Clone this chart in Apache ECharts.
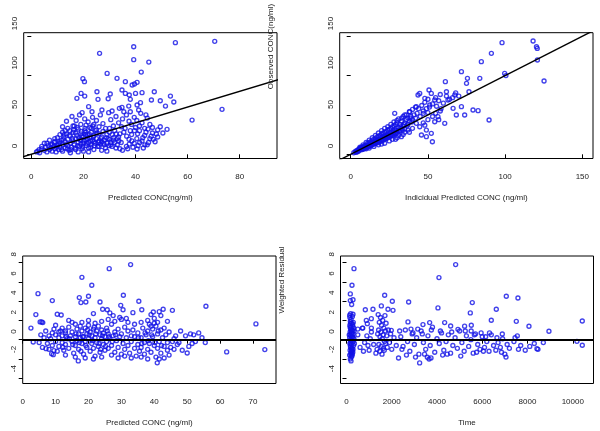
<!DOCTYPE html>
<html>
<head>
<meta charset="utf-8">
<script src="https://cdn.jsdelivr.net/npm/echarts@6/dist/echarts.min.js"></script>
<style>html,body{margin:0;padding:0;background:#fff}#chart{width:600px;height:431px}</style>
</head>
<body>
<div id="chart"></div>
<script>
// Panel 1: Observed vs Predicted CONC
const obsVsPred = [
[55.3,141.8],[70.4,143.5],[39.3,136.7],[26.2,128.3],[39.3,120.2],[45.1,117.2],[42.2,104.5],[29.1,102.8],[19.8,96.1],[20.4,92.3],
[32.9,96.5],[36.1,92.3],[40.6,91.4],[38.7,88],[39.6,89.3],[34.8,81.7],[25.2,79.5],[30.3,76.6],[19.1,77.4],[47.2,79.5],
[53.4,74],[20.5,74],[17.5,71.1],[25.6,69.8],[29.5,70.6],[36.1,77.4],[37.6,75.3],[40.0,77.4],[42.5,78.3],[38,69.8],
[41.9,65.6],[46.1,69],[49.5,68.1],[54.7,66.4],[51.5,61.3],[33.8,58.4],[34.8,59.6],[37.4,61.3],[40.6,62.6],[41.2,56.3],
[22.0,60.5],[23.3,54.1],[27.1,56.3],[29.7,52.9],[19.5,52.9],[73.2,57.1],[61.7,43.5],[52.1,31.7],[48,25.8],[40.6,6.7],
[15.6,48],[17.2,43],[18.5,50],[20.5,45],[21.8,41],[23.5,47],[25.0,43],[26.5,50],[24.0,38],[19.0,38],
[16.5,36],[13.5,42],[12.0,35],[14.8,30],[22.5,34],[27.5,39],[28.5,33],[30.5,44],[31.5,36],[32.5,48],
[33.5,40],[35.0,45],[36.5,50],[37.5,42],[38.5,38],[39.5,47],[40.5,43],[41.5,36],[42.5,40],[43.5,33],
[44.5,46],[45.5,38],[46.5,34],[44.0,50],[42.0,52],[38.0,54],[35.5,54],[31.0,55],
[30.5,12],[31.5,18],[32.5,8],[33.5,22],[34.5,15],[35.5,28],[36.5,10],[37.5,19],[38.5,25],[39.5,14],
[40.5,20],[41.5,30],[42.5,17],[43.5,24],[44.5,12],[45.5,20],[46.5,27],[47.5,16],[48.5,22],[35,5],
[37,7],[39,9],[41,11],[43,8],[45,15],[33,12],[31,25],[29.5,20],[28.5,8],[36,33],
[40,34],[44,28],[46,23],[48.5,31],[49.5,35],[50.5,27],[38,30],[34,26],[32,30],[30,28],
[27,16],[26,10],[27,5],[29,4],
[2.5,4],[3.2,2],[4,7],[5,5],[5.5,9],[6,3],[6.5,11],[7,6],[7.5,8],[8,4],
[8,13],[8.5,10],[9,7],[9,16],[9.5,3],[10,11],[10,21],[10.5,6],[11,14],[11,9],
[11.5,18],[12,4],[12,12],[12.5,22],[13,8],[13,16],[13.5,26],[14,11],[14,19],[14.5,5],
[15,14],[15,23],[15.5,9],[16,17],[16,28],[16.5,12],[17,20],[17,6],[17.5,24],[18,15],
[18,32],[18.5,10],[19,19],[19,26],[19.5,7],[20,14],[20,22],[20.5,30],[21,11],[21,18],
[21.5,25],[22,8],[22,15],[22.5,21],[23,12],[23,28],[23.5,18],[24,6],[24,24],[24.5,14],
[25,20],[25,31],[25.5,10],[26,17],[26,26],[26.5,13],[27,22],[27.5,29],[28,12],[28,18],
[29,25],[29,14],[30,19],[30,33],[31,10],[32,15],[33,20],[34,7],[6,14],[4,10],
[7,18],[12,28],[14,33],[16,36],[9,20],[11,25],[13,30],[3,6],[2,3],[5,14],
[7.5,12],[18,3],[20,4],[22,3],[15,2],[21,37],[23,33],[26,35],[17,27],[19,13],
[21,28],[24,16],[18.8,18],[20.2,17],[21.6,20],[19.4,23],[22.8,17],
[10.8,16],[12.2,19],[13.4,13],[14.6,24],[15.8,20],[16.8,8],[17.8,11],[18.2,21],[19.2,29],[19.8,10],
[20.8,25],[21.2,14],[22.2,26],[22.8,9],[23.8,22],[24.2,11],[25.2,27],[25.8,15],[26.8,20],[27.8,14],
[28.8,21],[29.8,11],[15.2,6],[16.2,31],[13.8,7],[12.6,25],[11.6,6],[10.4,13],[9.6,9],[8.8,15],
[17.6,34],[20.6,33],[23.6,36],[24.6,30],[31.6,21],[33.6,17],[36.6,23],[38.6,17],[40.8,26],[42.8,21],
[44.8,32],[46.8,19],[34.6,35],[32.6,26],[30.6,15],[37.6,13],[39.6,30],[41.6,15],[43.6,12]
];

// Panel 2: Observed vs Individual Predicted CONC
const obsVsIpred = [
[98,141.8],[118.1,143.9],[120.3,136.7],[120.8,134.5],[91.1,128.3],[84.6,117.7],[120.9,119.8],[99.7,102.8],[100.5,100],[71.7,105],
[125.2,93.1],[83.6,96.5],[75.6,96.5],[61.3,92.3],[75,90.2],[76.6,79.5],[50.7,81.7],[52.2,77.4],[44.7,77.4],[62,79.5],
[67.4,75.3],[63,69],[89.6,43.6],[82.5,55.4],[79.2,56.3],[71.7,60.5],[73.8,49.9],[68.4,49.9],[66.3,58.4],[60.9,39.3],
[56.5,47.8],[54.4,41.4],[45.8,24.5],[52.9,16],[49,22.4],[52.2,26.6],[28.5,52],
[2,2],[3,3.5],[3.5,2.5],[4,5],[4.5,4],[5,6],[5,4],[5.5,7],[6,5.5],[6.5,8],
[7,6],[7,9],[7.5,7.5],[8,10],[8,6.5],[8.5,9],[9,11],[9,7.5],[9.5,10],[10,12],
[10,8.5],[10.5,11],[11,14],[11,9.5],[11.5,12],[12,15],[12,10],[12.5,13],[13,16],[13,11],
[13.5,14],[14,18],[14,12],[14.5,15],[15,19],[15,13],[15.5,16],[16,20],[16,14],[16.5,17.5],
[17,22],[17,14.5],[17.5,18],[18,23],[18,15.5],[18.5,19],[19,24],[19,16],[19.5,21],[20,26],
[20,17],[20.5,22],[21,27],[21,18],[21.5,21],[22,28],[22,19],[22.5,23],[23,29],[23,20],
[23.5,25],[24,31],[24,21],[24.5,24],[25,32],[25,22],[25.5,27],[26,33],[26,23],[26.5,28],
[27,35],[27,24],[27.5,29],[28,36],[28,25],[28.5,31],[29,38],[29,26],[29.5,30],[30,40],
[30,27],[31,34],[31,45],[32,30],[32,38],[33,42],[33,33],[34,36],[34,48],[35,40],
[35,32],[36,44],[36,50],[37,38],[37,46],[38,42],[38,54],[39,48],[40,44],[40,57],
[41,50],[42,46],[42,60],[43,52],[44,58],[45,48],[46,62],[47,55],[48,66],[49,58],
[50,70],[51,60],[53,64],[55,72],[57,68],[58,76],[60,65],[62,74],[64,70],[66,72],
[68,78],[70,74],
[44.7,35],[49,30.8],[42.5,39.3],[37.1,30.8],[32.8,22.4],[30,21],[34,25],[38,28],[40,33],[47,40],
[50,44],[53,48],[55,52],[58,55],[57,44],[48,37],[20,13],[15,10],[25,17],[18,12],
[22,14],[27,19],[29,19],[31,24],[35,28],[10,7],[12,8],
[43.6,75.3],[48,71.1],[54.4,69],[51.2,62.6],[55.6,61],[42.5,60.5],[38.2,54.1],[35,50],[33,46],[47,52],
[50,53],[58.5,58],[30,43],[28,41],[26,38],[24,35],[22,33],[20,30],[18,27],[16,24],
[14,21],[12,18],[10,15],[8,12],[6,9],
[4,3],[6,7],[7.5,6],[8.5,8],[9.5,8.5],[10.5,9.5],[11.5,10.5],[12.5,11],[13.5,12.5],[14.5,13],
[15.5,14.5],[16.5,15],[17.5,16],[18.5,17],[19.5,18.5],[20.5,19],[21.5,23],[22.5,20.5],[23.5,22],[24.5,26],
[25.5,24],[26.5,25],[27.5,27],[28.5,27],[29.5,33],[30.5,30],[31.5,29],[32.5,35],[33.5,31],[34.5,38],
[36.5,36],[38.5,46],[39.5,41]
];

// Panel 3: Weighted Residual vs Predicted CONC
const wresVsPred = [
[32.8,7.78],[26.3,7.36],[18.0,6.46],[21.0,5.64],[4.65,4.77],[30.6,4.6],[9.0,4.05],[17.2,4.36],[20,4.5],[17.7,3.84],
[19.2,3.9],[23.5,3.9],[35.3,3.98],[29.8,3.56],[55.7,3.46],[25.7,3.1],[26.5,2.77],[24.3,3.15],[21.5,2.7],[10.5,2.63],
[11.7,2.56],[36.2,3.1],[39.7,2.87],[42.7,3.15],[45.5,3.04],[4.0,2.6],[70.9,1.63],[2.5,1.2],[5.3,1.84],[5.8,1.84],
[6.1,1.77],[3.2,-0.24],[62,-1.27],[73.6,-1.03],[16.9,-2.2],[40.9,-2.4],[50,-1.38],[8.8,-1.45],[9.3,-1.55],[9.5,-1.13],
[7.1,-0.93],
[10,1.5],[12,1.2],[14,2],[15,1.8],[13,0.9],[11,0.8],
[39,2.6],[40,2.2],[41,1.8],[40.5,1.4],[42,2.5],[43,1.2],[44,1.9],[39.5,1.1],[38.5,1.6],[41.5,2.9],
[48,0.9],[49.5,0.4],[51,0.6],[52,0.5],[53.5,0.7],[54.5,0.2],[52.5,-0.2],[50.5,-0.7],[48.5,-1.1],[46,0.1],
[47,-0.5],[55.5,-0.3],[51.5,-0.4],
[5,-0.3],[5.5,0.5],[6,-0.8],[6.5,0.2],[7,0.9],[7.5,-0.4],[8,0.4],[8,-1.0],[8.5,0.1],[9,0.7],
[9,-0.6],[9.5,1.1],[10,-0.2],[10,0.5],[10.5,-1.2],[11,0.2],[11,-0.7],[11.5,0.9],[12,-0.3],[12,0.4],
[12.5,-1.1],[13,0.7],[13,-0.5],[13.5,0.1],[14,1.3],[14,-0.9],[14.5,0.4],[15,-0.2],[15,0.8],[15.5,-1.4],
[16,0.3],[16,-0.6],[16.5,1.1],[16.5,-0.1],[17,0.6],[17,-1.0],[17.5,0.2],[17.5,1.4],[18,-0.4],[18,0.9],
[18.5,-1.5],[18.5,0.3],[19,1.2],[19,-0.2],[19.5,0.6],[19.5,-0.8],[20,0.1],[20,1.5],[20.5,-1.2],[20.5,0.8],
[21,-0.4],[21,0.4],[21.5,1.1],[21.5,-0.9],[22,0.2],[22,-1.7],[22.5,0.9],[22.5,-0.3],[23,1.4],[23,-0.7],
[23.5,0.5],[23.5,-1.3],[24,0.1],[24,1.0],[24.5,-0.5],[24.5,0.7],[25,-1.1],[25,0.3],[25.5,1.2],[25.5,-0.2],
[26,0.6],[26,-0.9],[26.5,0.1],[27,1.6],[27,-0.6],[27.5,0.4],[28,-1.3],[28,0.8],[28.5,-0.1],[29,1.1],
[29,-0.8],[29.5,0.3],[30,-1.5],[30,0.6],[30.5,-0.4],[31,1.3],[31,-1.0],[31.5,0.2],[32,-0.6],[32,0.9],
[32.5,-1.4],[33,0.4],[33,-0.2],[33.5,1.0],[34,-0.9],[34,0.3],[34.5,-1.7],[35,0.7],[35,-0.5],[35.5,-1.2],
[36,0.2],[36,-0.8],[36.5,1.2],[37,-0.3],[37,-1.5],[37.5,0.5],[38,-1.0],[38,0.9],[38.5,-0.4],[39,1.4],
[39,-1.3],[39.5,0.3],[40,-0.6],[40,1.7],[40.5,-1.8],[41,0.6],[41,-0.9],[41.5,-0.2],[42,1.0],[42,-1.4],
[42.5,0.2],[43,-0.7],[43,-1.9],[43.5,0.5],[44,-1.1],[44,-0.3],[44.5,0.8],[45,-0.8],[45.5,-0.2],[46,-1.0],
[46.5,0.4],[47.5,-0.3],
[13,-1.6],[16,-1.8],[19,-1.9],[21.5,-2.0],[24,-1.8],[27,-1.6],[29,-1.9],[31,-1.7],[33,-1.9],[36,-1.8],
[38,-2.0],[41.5,-2.0],[44.5,-1.6],
[16,1.6],[18,1.8],[20,2.0],[22,1.7],[24,1.9],[26,2.1],[28,1.9],[30,2.1],[32,1.8],[34,1.6],
[36,1.8],[38,2.0],[27.5,2.5],[29.5,2.3],[31.5,2.2],[33.5,2.8],[30.5,3.1],
[14.2,0.1],[15.2,-0.5],[16.2,0.6],[17.2,-0.3],[18.2,0.3],[19.2,-0.6],[20.2,0.5],[21.2,-0.1],[22.2,0.6],[23.2,-0.4],
[24.2,0.4],[25.2,-0.7],[26.2,0.3],[27.2,-0.2],[28.2,0.5],[19.7,1.0],[21.7,1.3],[23.7,-1.0],[17.7,-1.2],[25.7,0.9],
[35.2,0.2],[36.2,-0.4],[37.2,0.7],[38.2,-0.1],[39.2,0.5],[40.2,-0.3],[41.2,0.9],[42.2,-0.6],[12.2,-0.8],[13.2,0.3]
];

// Panel 4: Weighted Residual vs Time
const wresVsTime = [
[4824,7.78],[331,7.36],[4087,6.43],[243,5.64],[169,4.74],[1687,4.6],[7063,4.5],[7578,4.32],[169,4.05],[287,4.14],
[228,3.65],[2747,3.9],[2025,3.98],[5560,3.84],[4043,3.29],[6621,3.15],[5472,2.77],[1540,3.5],[1834,3.15],[2055,3.04],
[1170,3.15],[832,3.1],[184,2.7],[287,2.63],[140,2.53],[10421,1.94],[6400,2.01],[5516,1.49],[8065,1.39],[7505,1.9],
[8948,0.87],[3233,-2.41],[3735,-1.89],[3572,-1.82],[10185,-0.17],[10421,-0.58],[8462,-1.0],[8418,-0.93],
[2717,1.84],[3380,1.56],[3675,1.77],[4338,1.77],[4603,1.42],[4927,1.07],[5220,1.4],[5510,0.9],[5950,0.7],[6320,0.7],
[6886,0.59],[3150,1.1],[2940,0.7],[2350,0.9],[1981,0.97],[1100,1.2],[920,1.66],[876,2.0],[1097,2.18],[500,1.1],
[720,1.2],
[150,2.3],[200,2.1],[260,2.4],[170,1.9],[230,1.7],[300,1.8],[150,1.5],[210,1.3],[280,1.4],[180,1.1],
[250,1.0],[320,1.2],[160,0.8],[220,0.7],[290,0.6],[190,0.4],[260,0.3],[140,0.2],[330,0.1],[200,-0.1],
[270,-0.2],[150,-0.4],[230,-0.5],[310,-0.6],[180,-0.8],[250,-0.9],[160,-1.1],[220,-1.2],[290,-1.0],[190,-1.4],
[260,-1.5],[140,-1.6],[210,-1.8],[170,-2.0],[240,-1.7],[200,-2.2],[280,-1.3],[350,-0.4],[120,0.5],[330,0.9],
[180,0.0],[240,0.6],
[160,1.3],[210,0.9],[270,1.6],[190,-0.3],[230,0.2],[170,-0.6],[250,-1.1],[200,-1.6],[290,0.2],[160,0.5],
[220,-0.9],[180,1.7],[300,-0.2],[230,-1.3],[260,0.9],
[1400,2.6],[1500,2.3],[1600,2.0],[1700,2.5],[1450,1.8],[1550,1.5],[1650,1.2],[1750,1.7],[1420,1.0],[1520,0.8],
[1620,0.5],[1720,0.9],[1480,0.3],[1580,0.1],[1680,-0.2],[1780,0.4],[1430,-0.5],[1530,-0.7],[1630,-0.9],[1730,-0.4],
[1470,-1.2],[1570,-1.5],[1670,-1.1],[1800,-0.8],[1850,1.0],[1900,-0.3],[1950,0.6],[2000,-1.0],[2100,0.2],[2200,-0.6],
[1350,-1.0],[1380,0.6],
[500,0.5],[600,-0.8],[700,1.2],[800,-0.3],[900,0.4],[1000,-1.1],[1100,0.8],[1200,-0.5],[1300,-1.4],[750,-1.2],
[950,-0.6],[1050,0.1],[2300,-1.9],[2400,0.3],[2500,-0.7],[2600,1.0],[2700,-0.2],[2800,-1.2],[2900,0.6],[3000,-0.5],
[3100,0.2],[3200,-1.5],[3300,0.9],[3400,-0.3],[3500,-1.0],[3600,0.4],[3700,-0.6],[3800,1.3],[3900,-1.3],[4000,0.1],
[4100,-0.4],[4200,0.7],[4300,-1.1],[4400,-0.2],[4500,0.5],[4600,-1.4],[4700,-0.6],[4800,0.2],[4900,-0.9],[5000,0.9],
[5100,-0.3],[5200,-1.2],[5300,0.4],[5400,-0.7],[5500,0.0],[5600,-1.4],[5700,0.6],[5800,-0.5],[5900,-1.0],[6000,0.3],
[6100,-0.8],[6200,-0.2],[6300,-1.2],[6400,0.5],[6500,-0.6],[6600,-1.1],[6700,-0.3],[6800,-0.8],[6900,0.1],[7000,-1.5],
[7100,-0.5],[7200,-0.9],[7400,-0.2],[7600,-1.0],[7700,-0.6],[7900,-1.1],[8100,-0.7],[8300,-0.4],[8700,-0.3],[2450,-1.0],
[2650,-1.6],[3050,-1.8],[3450,-1.5],[3650,-2.0],[4250,-1.6],[4450,-1.5],[5050,-1.7],[5750,-1.3],[6050,-1.2],[6850,-1.3],
[7050,-1.8],[2850,1.1],[3350,0.6],[3750,1.0],[4150,0.9],[4650,0.8],[5250,0.9],[5650,0.5],[6150,0.3],[6650,0.2],
[7550,0.4],[7450,0.2]
];

// Reference lines
const identityLine = [[-20,-20],[200,200]];
const zeroResidual = 0;

// Tick values
const ticksP1x = [0,20,40,60,80];
const ticksP2x = [0,50,100,150];
const ticksConcY = [0,50,100,150];
const ticksP3x = [0,10,20,30,40,50,60,70];
const ticksP4x = [0,2000,4000,6000,8000,10000];
const ticksResY = [-4,-2,0,2,4,6,8];

const FONT = "'Liberation Sans', Arial, sans-serif";
const PT = 'rgb(18,18,230)';
const plain = v => String(v);

function xAx(gi, min, max, ticks, name) {
  return {
    type: 'value', gridIndex: gi, min: min, max: max,
    splitLine: {show: false}, axisLine: {show: false},
    axisTick: {show: true, length: 4, customValues: ticks, lineStyle: {color: '#000', width: 1}},
    axisLabel: {customValues: ticks, formatter: plain, margin: 14, fontSize: 8, color: '#222', fontFamily: FONT},
    name: name, nameLocation: 'middle', nameGap: 35,
    nameTextStyle: {fontSize: 8, color: '#222', fontFamily: FONT}
  };
}
function yAx(gi, min, max, ticks) {
  return {
    type: 'value', gridIndex: gi, min: min, max: max,
    splitLine: {show: false}, axisLine: {show: false},
    axisTick: {show: true, length: 4, customValues: ticks, lineStyle: {color: '#000', width: 1}},
    axisLabel: {customValues: ticks, formatter: plain, rotate: 90, align: 'left', padding: [0,0,0,6], margin: 5,
      fontSize: 8, color: '#222', fontFamily: FONT}
  };
}
function pts(i, data) {
  return {type: 'scatter', xAxisIndex: i, yAxisIndex: i, data: data, symbol: 'circle', symbolSize: 4,
    itemStyle: {color: 'rgba(0,0,0,0)', borderColor: PT, borderWidth: 1.35}, silent: true, z: 2};
}
const gridBase = {show: true, borderColor: '#000', borderWidth: 1, backgroundColor: 'rgba(0,0,0,0)', containLabel: false};

const chart = echarts.init(document.getElementById('chart'), null, {renderer: 'canvas'});
chart.setOption({
  animation: false,
  backgroundColor: '#fff',
  grid: [
    Object.assign({left: 23.7, top: 32.7, width: 253.3, height: 125.8}, gridBase),
    Object.assign({left: 339.7, top: 32.7, width: 253.3, height: 125.8}, gridBase),
    Object.assign({left: 22.7, top: 256, width: 253.3, height: 127.5}, gridBase),
    Object.assign({left: 340.5, top: 256, width: 253, height: 127.5}, gridBase)
  ],
  xAxis: [
    xAx(0, -2.92, 94.3, ticksP1x, 'Predicted CONC(ng/ml)'),
    xAx(1, -7.12, 156.9, ticksP2x, 'Indicidual Predicted CONC (ng/ml)'),
    xAx(2, 0, 77.0, ticksP3x, 'Predicted CONC (ng/ml)'),
    xAx(3, -265, 10917, ticksP4x, 'Time')
  ],
  yAxis: [
    yAx(0, -5.34, 154.5, ticksConcY),
    yAx(1, -5.34, 154.5, ticksConcY),
    yAx(2, -4.54, 8.67, ticksResY),
    yAx(3, -4.54, 8.67, ticksResY)
  ],
  graphic: [
    {type: 'text', x: 271, y: 46.5, rotation: Math.PI/2, z: 10,
      style: {text: 'Observed CONC(ng/ml)', font: "8px 'Liberation Sans', Arial, sans-serif", fill: '#222', align: 'center', verticalAlign: 'middle'}},
    {type: 'text', x: 281.7, y: 280, rotation: Math.PI/2, z: 10,
      style: {text: 'Weighted Residual', font: "8px 'Liberation Sans', Arial, sans-serif", fill: '#222', align: 'center', verticalAlign: 'middle'}}
  ],
  series: [
    pts(0, obsVsPred),
    pts(1, obsVsIpred),
    pts(2, wresVsPred),
    pts(3, wresVsTime),
    {type: 'line', xAxisIndex: 0, yAxisIndex: 0, data: identityLine, symbol: 'none', clip: true, silent: true, z: 3,
      lineStyle: {color: '#000', width: 1.4}},
    {type: 'line', xAxisIndex: 1, yAxisIndex: 1, data: identityLine, symbol: 'none', clip: true, silent: true, z: 3,
      lineStyle: {color: '#000', width: 1.4}},
    {type: 'scatter', xAxisIndex: 2, yAxisIndex: 2, data: [], markLine: {silent: true, symbol: 'none', label: {show: false},
      lineStyle: {color: '#000', width: 1.8, type: 'solid'}, data: [{yAxis: zeroResidual}]}},
    {type: 'scatter', xAxisIndex: 3, yAxisIndex: 3, data: [], markLine: {silent: true, symbol: 'none', label: {show: false},
      lineStyle: {color: '#000', width: 1.8, type: 'solid'}, data: [{yAxis: zeroResidual}]}}
  ]
});
</script>
</body>
</html>
